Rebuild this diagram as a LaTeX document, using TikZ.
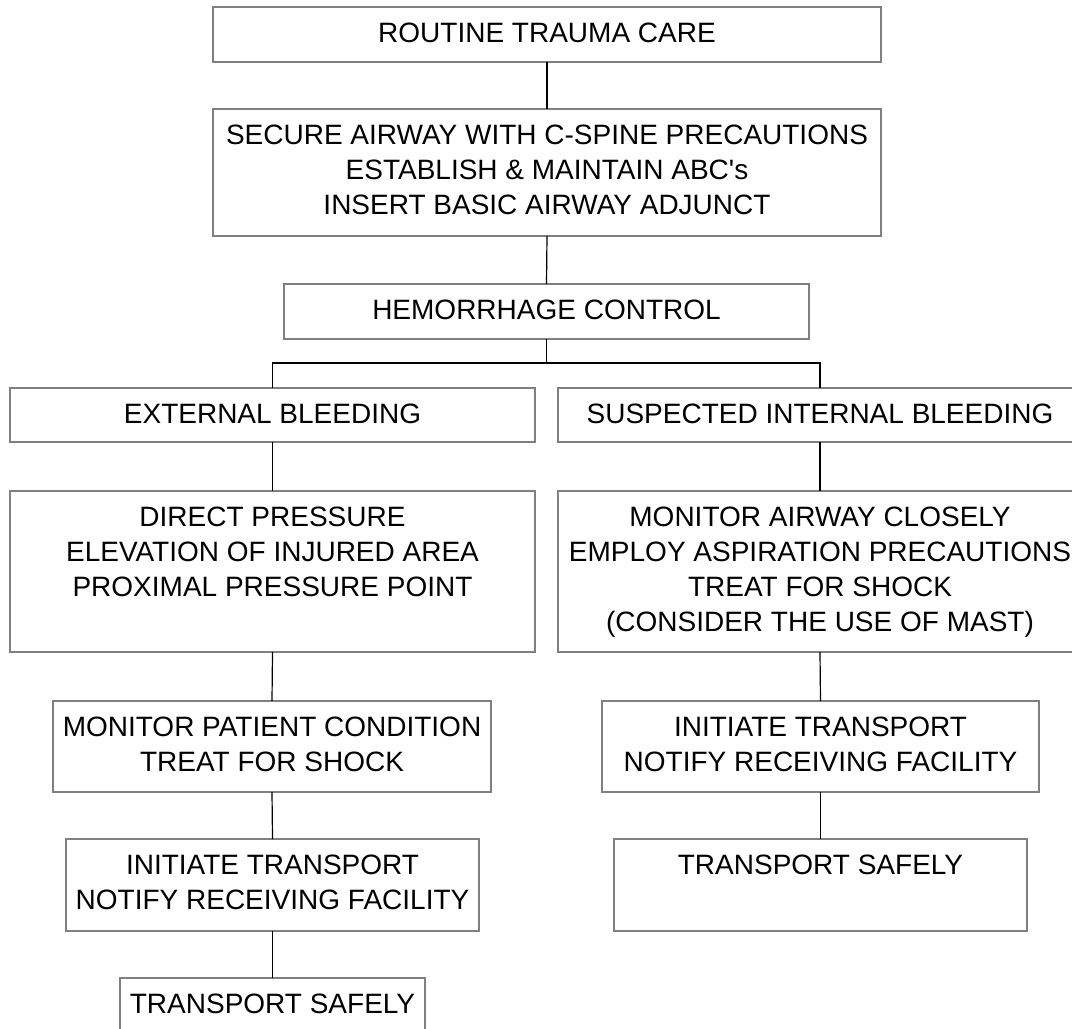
\documentclass[tikz,border=0pt]{standalone}
\usepackage{fontspec}
\setmainfont{Liberation Sans}[Ligatures=TeXOff]
\begin{document}
\begin{tikzpicture}[x=1pt,y=-1pt,
  box/.style={draw=black!50, line width=1.3pt, inner sep=0pt, outer sep=0pt},
  txt/.style={font=\fontsize{28pt}{35pt}\selectfont, align=center, inner sep=0pt, anchor=north},
  link/.style={draw=black, line width=1.2pt}]
% page frame
\clip (0,0) rectangle (1072,1029);
\fill[white] (0,0) rectangle (1072,1029);
% flow box: name, left, top, right, bottom, text
\newcommand\flowbox[6]{%
  \node[box, anchor=north west, minimum width={(#4-#2)*1pt}, minimum height={(#5-#3)*1pt}] (#1) at (#2,#3) {};
  \node[txt] (#1t) at ([yshift=-16pt]#1.north) {#6};}
% main column
\flowbox{b1}{213}{7}{881}{62}{ROUTINE TRAUMA CARE}
\flowbox{b2}{213}{109}{881}{236}{SECURE AIRWAY WITH C-SPINE PRECAUTIONS\\ESTABLISH \& MAINTAIN ABC's\\INSERT BASIC AIRWAY ADJUNCT}
\flowbox{b3}{284}{284}{809}{339}{HEMORRHAGE CONTROL}
% left branch
\flowbox{b4}{10}{388}{535}{442}{EXTERNAL BLEEDING}
\flowbox{b6}{10}{491}{535}{652}{DIRECT PRESSURE\\ELEVATION OF INJURED AREA\\PROXIMAL PRESSURE POINT}
\flowbox{b8}{53}{701}{491}{792}{MONITOR PATIENT CONDITION\\TREAT FOR SHOCK}
\flowbox{b10}{66}{839}{479}{931}{INITIATE TRANSPORT\\NOTIFY RECEIVING FACILITY}
\flowbox{b12}{120}{978}{425}{1070}{TRANSPORT SAFELY}
% right branch
\flowbox{b5}{558}{388}{1082}{442}{SUSPECTED INTERNAL BLEEDING}
\flowbox{b7}{558}{491}{1082}{652}{MONITOR AIRWAY CLOSELY\\EMPLOY ASPIRATION PRECAUTIONS\\TREAT FOR SHOCK\\(CONSIDER THE USE OF MAST)}
\flowbox{b9}{602}{701}{1039}{792}{INITIATE TRANSPORT\\NOTIFY RECEIVING FACILITY}
\flowbox{b11}{614}{839}{1027}{931}{TRANSPORT SAFELY}
% connectors
\draw[link] (b1.south) -- (b2.north);
\draw[link] (b2.south) -- (b3.north);
\draw[link] (b3.south) -- ++(0,24) coordinate (jc);
\draw[link] (b4.north) -- (b4.north |- jc) -- (b5.north |- jc) -- (b5.north);
\draw[link] (b4.south) -- (b6.north);
\draw[link] (b6.south) -- (b8.north);
\draw[link] (b8.south) -- (b10.north);
\draw[link] (b10.south) -- (b12.north);
\draw[link] (b5.south) -- (b7.north);
\draw[link] (b7.south) -- (b9.north);
\draw[link] (b9.south) -- (b11.north);
\end{tikzpicture}
\end{document}
